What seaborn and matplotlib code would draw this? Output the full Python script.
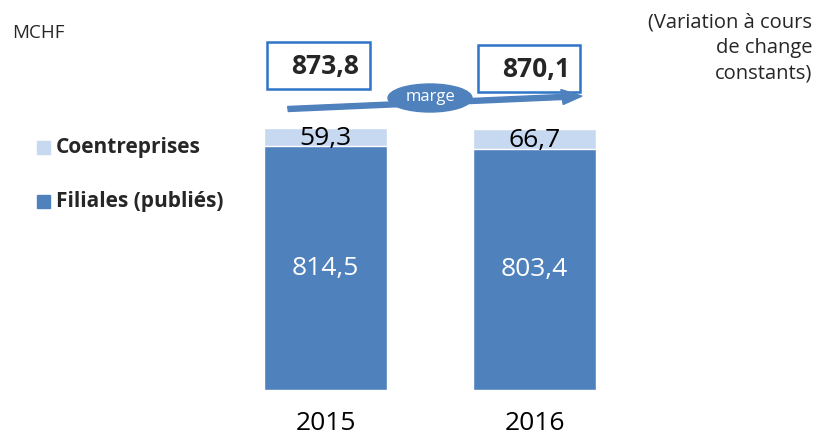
import matplotlib
matplotlib.use("Agg")
import matplotlib.pyplot as plt
import seaborn as sns
from matplotlib.patches import Ellipse, FancyArrow, Rectangle

years = ["2015", "2016"]
filiales = [814.5, 803.4]
coentreprises = [59.3, 66.7]
totals = [873.8, 870.1]
series_names = ["Coentreprises", "Filiales (publiés)"]

BLUE = "#4F81BD"
LIGHT = "#C6D9F1"
W, H = 821, 438

sns.set_theme(style="white")
plt.rcParams["font.family"] = ["Open Sans", "DejaVu Sans"]

fig = plt.figure(figsize=(W / 100, H / 100), dpi=100)
ax = fig.add_axes([0, 0, 1, 1])

# stacked bars: total in light blue, filiales on top of it in darker blue
sns.barplot(x=years, y=totals, color=LIGHT, width=0.59, ax=ax, saturation=1)
sns.barplot(x=years, y=filiales, color=BLUE, width=0.59, ax=ax, saturation=1)

# map pixels to data so the bars sit where they do in the reference
px_per_unit = 244 / 814.5
ax.set_xlim(-325.5 / 209, (W - 325.5) / 209)
ax.set_ylim(-(H - 390) / px_per_unit, 390 / px_per_unit)
ax.axis("off")

for i, (f, c) in enumerate(zip(filiales, coentreprises)):
    ax.text(i, f / 2, f"{f:.1f}".replace(".", ","), ha="center", va="center",
            fontsize=19, color="white")
    ax.text(i, f + c / 2 - 4, f"{c:.1f}".replace(".", ","), ha="center", va="center",
            fontsize=19, color="black")
    ax.text(i, -113, years[i], ha="center", va="center", fontsize=19, color="black")


def px(x, y):
    return x / W, 1 - y / H


# total boxes
for (x0, y0, x1, y1), t in zip([(267, 42, 370, 89), (478, 45, 580, 92)], totals):
    fig.patches.append(Rectangle(px(x0, y1), (x1 - x0) / W, (y1 - y0) / H,
                                 transform=fig.transFigure, fill=False,
                                 edgecolor="#2E75C8", linewidth=1.8))
    fig.text(*px((x0 + x1) / 2 + 7, (y0 + y1) / 2 + 1), f"{t:.1f}".replace(".", ","),
             ha="center", va="center", fontsize=19, fontweight="bold")

# arrow with "marge" bubble
x0, y0 = px(288, 109)
x1, y1 = px(562, 97)
fig.patches.append(FancyArrow(x0, y0, x1 - x0, y1 - y0, width=5 / H,
                              head_width=15 / H, head_length=20 / W,
                              transform=fig.transFigure, color=BLUE,
                              length_includes_head=False))
fig.patches.append(Ellipse(px(430, 98), 84 / W, 28 / H,
                           transform=fig.transFigure, color=BLUE))
fig.text(*px(430, 97), "marge", ha="center", va="center", fontsize=12, color="white")

# legend
for name, color, yc in zip(series_names, [LIGHT, BLUE], [148, 202]):
    fig.patches.append(Rectangle(px(37, yc + 6), 13 / W, 13 / H,
                                 transform=fig.transFigure, color=color))
    fig.text(*px(56, yc), name, ha="left", va="center", fontsize=15, fontweight="bold")

fig.text(*px(12, 33), "MCHF", ha="left", va="center", fontsize=13.5)
fig.text(*px(812, 48), "(Variation à cours\nde change\nconstants)", ha="right",
         va="center", fontsize=14.5, linespacing=1.35)

fig.savefig("out.png", dpi=100)
